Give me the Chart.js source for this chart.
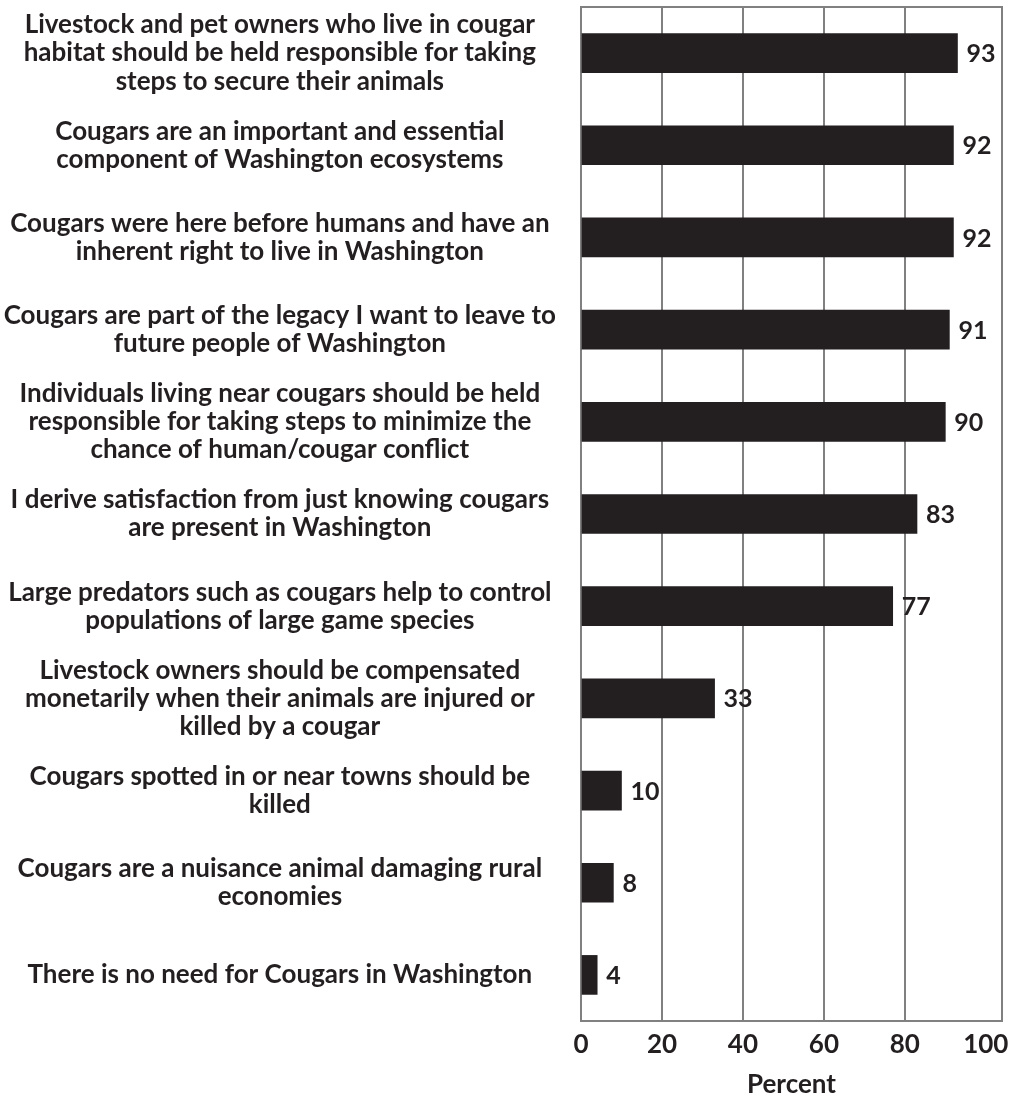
<!DOCTYPE html>
<html>
<head>
<meta charset="utf-8">
<script src="https://cdn.jsdelivr.net/npm/chart.js@4/dist/chart.umd.min.js"></script>
<style>
  html, body { margin: 0; padding: 0; background: #ffffff; }
  #wrap { width: 1021px; height: 1103px; }
</style>
</head>
<body>
<div id="wrap"><canvas id="c" width="1021" height="1103"></canvas></div>
<script>
// ---- data ----
const categories = [
  ["Livestock and pet owners who live in cougar", "habitat should be held responsible for taking", "steps to secure their animals"],
  ["Cougars are an important and essential", "component of Washington ecosystems"],
  ["Cougars were here before humans and have an", "inherent right to live in Washington"],
  ["Cougars are part of the legacy I want to leave to", "future people of Washington"],
  ["Individuals living near cougars should be held", "responsible for taking steps to minimize the", "chance of human/cougar conflict"],
  ["I derive satisfaction from just knowing cougars", "are present in Washington"],
  ["Large predators such as cougars help to control", "populations of large game species"],
  ["Livestock owners should be compensated", "monetarily when their animals are injured or", "killed by a cougar"],
  ["Cougars spotted in or near towns should be", "killed"],
  ["Cougars are a nuisance animal damaging rural", "economies"],
  ["There is no need for Cougars in Washington"]
];
const percentValues = [93, 92, 92, 91, 90, 83, 77, 33, 10, 8, 4];
const xTickValues = [0, 20, 40, 60, 80, 100];
const xAxisTitle = "Percent";

// ---- styles ----
const FONT = "Lato";
const TEXT = "#231f20";
const GRID = "#808080";

const valueLabels = {
  id: 'valueLabels',
  afterDatasetsDraw(chart) {
    const ctx = chart.ctx;
    const meta = chart.getDatasetMeta(0);
    ctx.save();
    ctx.font = "bold 25px " + FONT;
    ctx.fillStyle = TEXT;
    ctx.textAlign = "left";
    ctx.textBaseline = "middle";
    meta.data.forEach((el, i) => {
      ctx.fillText(String(chart.data.datasets[0].data[i]), el.x + 9, el.y + 1);
    });
    ctx.restore();
  }
};

const frame = {
  id: 'frame',
  beforeDatasetsDraw(chart) {
    const a = chart.chartArea;
    const ctx = chart.ctx;
    ctx.save();
    ctx.strokeStyle = GRID;
    ctx.lineWidth = 2;
    ctx.strokeRect(a.left, a.top, a.right - a.left, a.bottom - a.top);
    ctx.restore();
  }
};

new Chart(document.getElementById('c'), {
  type: 'bar',
  data: {
    labels: categories,
    datasets: [{
      data: percentValues,
      backgroundColor: TEXT,
      borderWidth: 0,
      barThickness: 39
    }]
  },
  options: {
    indexAxis: 'y',
    responsive: false,
    animation: false,
    events: [],
    layout: { padding: { top: 7, right: 19, left: 0, bottom: 3 } },
    plugins: { legend: { display: false }, tooltip: { enabled: false } },
    scales: {
      x: {
        min: 0,
        max: 104,
        afterBuildTicks(scale) { scale.ticks = xTickValues.map(v => ({ value: v })); },
        grid: {
          drawTicks: false,
          lineWidth: 2,
          color: (c) => (c.tick && c.tick.value > 0 && c.tick.value < 100) ? GRID : 'rgba(0,0,0,0)'
        },
        border: { display: false },
        ticks: {
          padding: 11,
          color: TEXT,
          font: { family: FONT, size: 26, weight: 'bold', lineHeight: 1.0 },
          maxRotation: 0,
          autoSkip: false
        },
        title: {
          display: true,
          text: xAxisTitle,
          color: TEXT,
          font: { family: FONT, size: 26, weight: 'bold', lineHeight: 1.0 },
          padding: { top: 3, bottom: 2 }
        }
      },
      y: {
        afterFit(scale) { scale.width = 581; scale.paddingTop = 0; scale.paddingBottom = 0; },
        grid: { display: false, drawTicks: false },
        border: { display: false },
        ticks: {
          crossAlign: 'center',
          padding: 25,
          color: TEXT,
          font: { family: FONT, size: 26, weight: 'bold', lineHeight: 1.08 },
          autoSkip: false
        }
      }
    }
  },
  plugins: [frame, valueLabels]
});
</script>
</body>
</html>
